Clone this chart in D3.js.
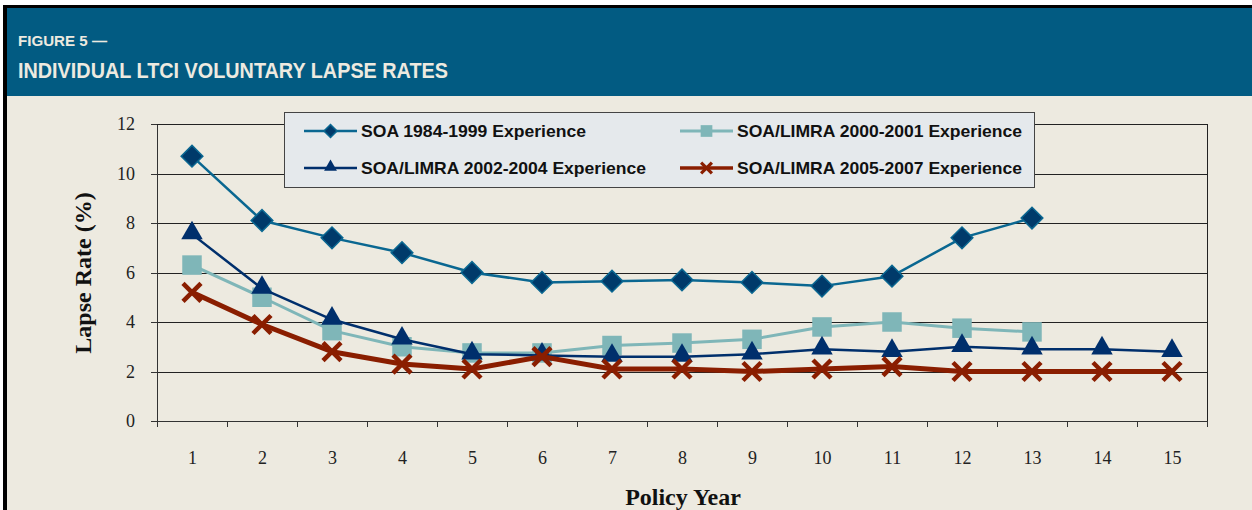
<!DOCTYPE html>
<meta charset="utf-8">
<style>
body { margin: 0; background: #fff; }
.axis text { font: 18px "Liberation Serif", "Times New Roman", serif; fill: #222; }
.axis path, .axis line { stroke: #333; shape-rendering: crispEdges; }
.grid line { stroke: #222; shape-rendering: crispEdges; }
.grid path { display: none; }
.legend text { font: bold 17px "Liberation Sans", Arial, sans-serif; fill: #111; }
</style>
<svg class="chart" width="1252" height="510"></svg>
<script src="https://d3js.org/d3.v7.min.js"></script>
<script>

// policy years
var years = [1, 2, 3, 4, 5, 6, 7, 8, 9, 10, 11, 12, 13, 14, 15];
var yTicks = [0, 2, 4, 6, 8, 10, 12];

// lapse rates (%) by policy year
var soa8499 = [10.7, 8.1, 7.4, 6.8, 6.0, 5.6, 5.65, 5.7, 5.6, 5.45, 5.85, 7.4, 8.2];
var limra0001 = [6.3, 5.0, 3.65, 3.0, 2.75, 2.75, 3.05, 3.15, 3.3, 3.8, 4.0, 3.75, 3.6];
var limra0204 = [7.55, 5.35, 4.1, 3.3, 2.7, 2.65, 2.6, 2.6, 2.7, 2.9, 2.8, 3.0, 2.9, 2.9, 2.8];
var limra0507 = [5.2, 3.9, 2.8, 2.3, 2.1, 2.6, 2.1, 2.1, 2.0, 2.1, 2.2, 2.0, 2.0, 2.0, 2.0];

var seriesNames = ["SOA 1984-1999 Experience", "SOA/LIMRA 2000-2001 Experience",
                   "SOA/LIMRA 2002-2004 Experience", "SOA/LIMRA 2005-2007 Experience"];

var series = [
  {name: seriesNames[0], values: soa8499, color: "#0A6791", width: 2.5, marker: "diamond", fill: "#003A6A"},
  {name: seriesNames[1], values: limra0001, color: "#7FB6B8", width: 3, marker: "square", fill: "#7FB6B8"},
  {name: seriesNames[2], values: limra0204, color: "#002F6C", width: 2.5, marker: "triangle", fill: "#002F6C"},
  {name: seriesNames[3], values: limra0507, color: "#8A1E00", width: 5, marker: "cross", fill: "#8A1E00"}
];

var svg = d3.select(".chart");
var plot = {left: 157, right: 1207, top: 124, bottom: 421};

// frame and header
svg.append("rect").attr("x", 3).attr("y", 5).attr("width", 1252).attr("height", 510).attr("fill", "#000");
svg.append("rect").attr("x", 7).attr("y", 8).attr("width", 1252).attr("height", 510).attr("fill", "#EDEAE0");
svg.append("rect").attr("x", 7).attr("y", 8).attr("width", 1252).attr("height", 88).attr("fill", "#025B82");

svg.append("text").attr("x", 18).attr("y", 46)
  .attr("textLength", 89).attr("lengthAdjust", "spacingAndGlyphs")
  .style("font", "bold 15px 'Liberation Sans Narrow', 'Liberation Sans', Arial, sans-serif")
  .attr("fill", "#EDEAE0").text("FIGURE 5 —");
svg.append("text").attr("x", 18).attr("y", 78)
  .attr("textLength", 430).attr("lengthAdjust", "spacingAndGlyphs")
  .style("font", "bold 22px 'Liberation Sans Narrow', 'Liberation Sans', Arial, sans-serif")
  .attr("fill", "#EDEAE0").text("INDIVIDUAL LTCI VOLUNTARY LAPSE RATES");

var x = d3.scalePoint().domain(years).range([plot.left, plot.right]).padding(0.5);
var xEdges = d3.scaleLinear().domain([0.5, 15.5]).range([plot.left, plot.right]);
var y = d3.scaleLinear().domain([0, 12]).range([plot.bottom, plot.top]);

// gridlines
svg.append("g").attr("class", "grid")
  .attr("transform", "translate(" + plot.left + ",0)")
  .call(d3.axisLeft(y).tickValues(yTicks.slice(1)).tickSize(-(plot.right - plot.left)).tickFormat(""));

// right border
svg.append("line").attr("x1", plot.right).attr("x2", plot.right)
  .attr("y1", plot.top).attr("y2", plot.bottom + 6)
  .attr("stroke", "#222").style("shape-rendering", "crispEdges");

// x axis: boundary ticks + centered labels
svg.append("g").attr("class", "axis")
  .attr("transform", "translate(0," + plot.bottom + ")")
  .call(d3.axisBottom(xEdges).tickValues(d3.range(0.5, 15.6, 1)).tickSize(6).tickSizeOuter(0).tickFormat(""))
  .select(".domain").attr("stroke-width", 1.5);
svg.append("g").attr("class", "axis")
  .attr("transform", "translate(0," + plot.bottom + ")")
  .call(d3.axisBottom(x).tickSize(0).tickPadding(30))
  .call(function(g){ g.select(".domain").remove(); });

// y axis
svg.append("g").attr("class", "axis")
  .attr("transform", "translate(" + plot.left + ",0)")
  .call(d3.axisLeft(y).tickValues(yTicks).tickSize(6).tickSizeOuter(0).tickPadding(16))
  .select(".domain").attr("stroke-width", 1.5);

// axis titles
svg.append("text")
  .attr("transform", "translate(91,273) rotate(-90)")
  .attr("text-anchor", "middle")
  .style("font", "bold 24px 'Liberation Serif', 'Times New Roman', serif")
  .attr("fill", "#111").text("Lapse Rate (%)");
svg.append("text")
  .attr("x", 683).attr("y", 505)
  .attr("text-anchor", "middle")
  .style("font", "bold 24px 'Liberation Serif', 'Times New Roman', serif")
  .attr("fill", "#111").text("Policy Year");

function drawMarker(g, s, scale) {
  if (s.marker === "cross") {
    var r = 9 * scale;
    g.append("path").attr("d", "M" + -r + "," + -r + "L" + r + "," + r + "M" + r + "," + -r + "L" + -r + "," + r)
      .attr("stroke", s.color).attr("stroke-width", 4.5 * Math.max(scale, 0.7)).attr("fill", "none");
  } else if (s.marker === "diamond") {
    g.append("path").attr("d", d3.symbol(d3.symbolSquare, 235 * scale * scale)())
      .attr("transform", "rotate(45)")
      .attr("fill", s.fill).attr("stroke", s.color).attr("stroke-width", 1.5);
  } else if (s.marker === "square") {
    g.append("path").attr("d", d3.symbol(d3.symbolSquare, 380 * scale * scale)())
      .attr("fill", s.fill);
  } else {
    g.append("path").attr("d", d3.symbol(d3.symbolTriangle, 200 * scale * scale)())
      .attr("transform", "translate(0,-1)")
      .attr("fill", s.fill);
  }
}

var line = d3.line()
  .x(function(d, i){ return x(years[i]); })
  .y(function(d){ return y(d); });

series.forEach(function(s){
  var g = svg.append("g");
  g.append("path").datum(s.values)
    .attr("d", line)
    .attr("fill", "none")
    .attr("stroke", s.color)
    .attr("stroke-width", s.width)
    .attr("stroke-linejoin", "round");
  g.selectAll("g.pt").data(s.values).enter().append("g")
    .attr("class", "pt")
    .attr("transform", function(d, i){ return "translate(" + x(years[i]) + "," + y(d) + ")"; })
    .each(function(){ drawMarker(d3.select(this), s, 1); });
});

// legend
var legend = svg.append("g").attr("class", "legend");
legend.append("rect").attr("x", 284).attr("y", 112).attr("width", 750).attr("height", 75)
  .attr("fill", "#E5E9EC").attr("stroke", "#444").style("shape-rendering", "crispEdges");

var legendPos = [[304, 131], [680, 131], [304, 168], [680, 168]];
var legendLen = [225, 285, 285, 285];
series.forEach(function(s, i){
  var p = legendPos[i];
  var item = legend.append("g").attr("transform", "translate(" + p[0] + "," + p[1] + ")");
  item.append("line").attr("x1", 0).attr("x2", 53)
    .attr("stroke", s.color).attr("stroke-width", Math.min(s.width, 3.5));
  var m = item.append("g").attr("transform", "translate(26.5,0)");
  drawMarker(m, s, 0.6);
  item.append("text").attr("x", 57).attr("y", 6)
    .attr("textLength", legendLen[i]).attr("lengthAdjust", "spacingAndGlyphs")
    .text(s.name);
});
</script>
